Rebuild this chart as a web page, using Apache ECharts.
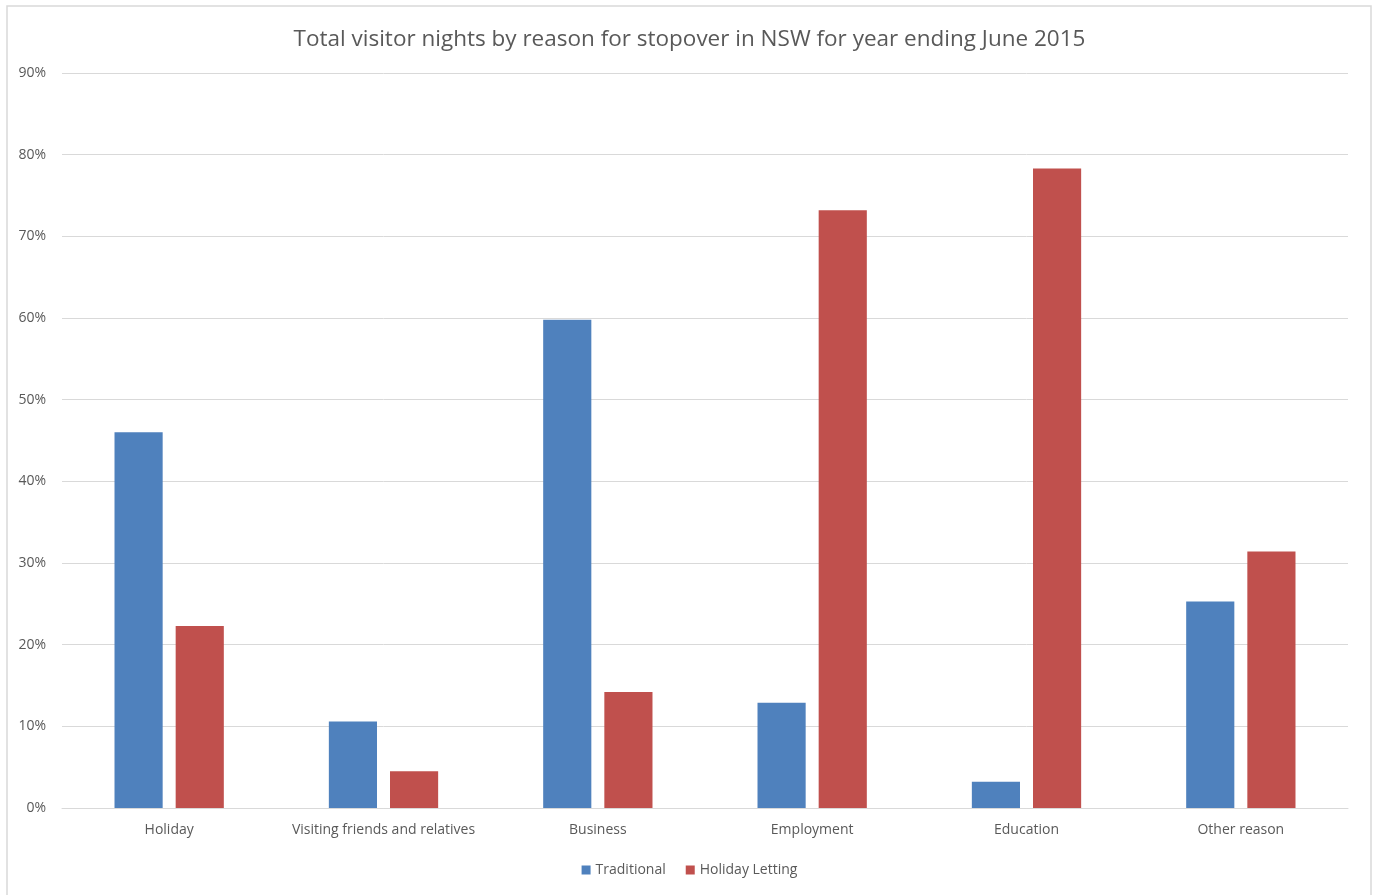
<!DOCTYPE html>
<html><head><meta charset="utf-8">
<script src="https://cdn.jsdelivr.net/npm/echarts@6/dist/echarts.min.js"></script>
<style>html,body{margin:0;padding:0;background:#fff}#c{width:1379px;height:895px}</style>
</head><body><div id="c"></div>
<script>
const categories = ["Holiday","Visiting friends and relatives","Business","Employment","Education","Other reason"];
const traditional = [46.0, 10.6, 59.8, 12.9, 3.2, 25.3];
const holidayLetting = [22.3, 4.5, 14.2, 73.2, 78.3, 31.4];
const yTicks = [0,10,20,30,40,50,60,70,80,90];

const chart = echarts.init(document.getElementById('c'));
const font = 'Open Sans';
chart.setOption({
  animation:false,
  graphic:[{type:'rect',shape:{x:7,y:6,width:1364,height:900},style:{fill:'none',stroke:'#d9d9d9',lineWidth:1.5},silent:true}],
  title:{text:'Total visitor nights by reason for stopover in NSW for year ending June 2015',left:'center',top:23,
    textStyle:{fontFamily:font,fontSize:22.5,fontWeight:'normal',color:'#595959'}},
  legend:{bottom:13,left:'center',itemWidth:9,itemHeight:9,itemGap:20,icon:'rect',
    textStyle:{fontFamily:font,fontSize:14,color:'#595959'}},
  grid:{left:62,right:31,top:73,bottom:87,containLabel:false},
  xAxis:{type:'category',data:categories,
    axisLine:{lineStyle:{color:'#d9d9d9'}},axisTick:{show:false},
    axisLabel:{interval:0,fontFamily:font,fontSize:14,color:'#595959',margin:15}},
  yAxis:{type:'value',min:0,max:90,interval:10,
    axisLabel:{formatter:v=>yTicks.includes(v)?v+'%':'',fontFamily:font,fontSize:14,color:'#595959',margin:16},
    splitLine:{lineStyle:{color:'#d9d9d9'}},axisLine:{show:false},axisTick:{show:false}},
  series:[
    {name:'Traditional',type:'bar',data:traditional,itemStyle:{color:'#4f81bd'},barGap:'27%',barCategoryGap:'49%'},
    {name:'Holiday Letting',type:'bar',data:holidayLetting,itemStyle:{color:'#c0504d'}}
  ]
});
</script></body></html>
